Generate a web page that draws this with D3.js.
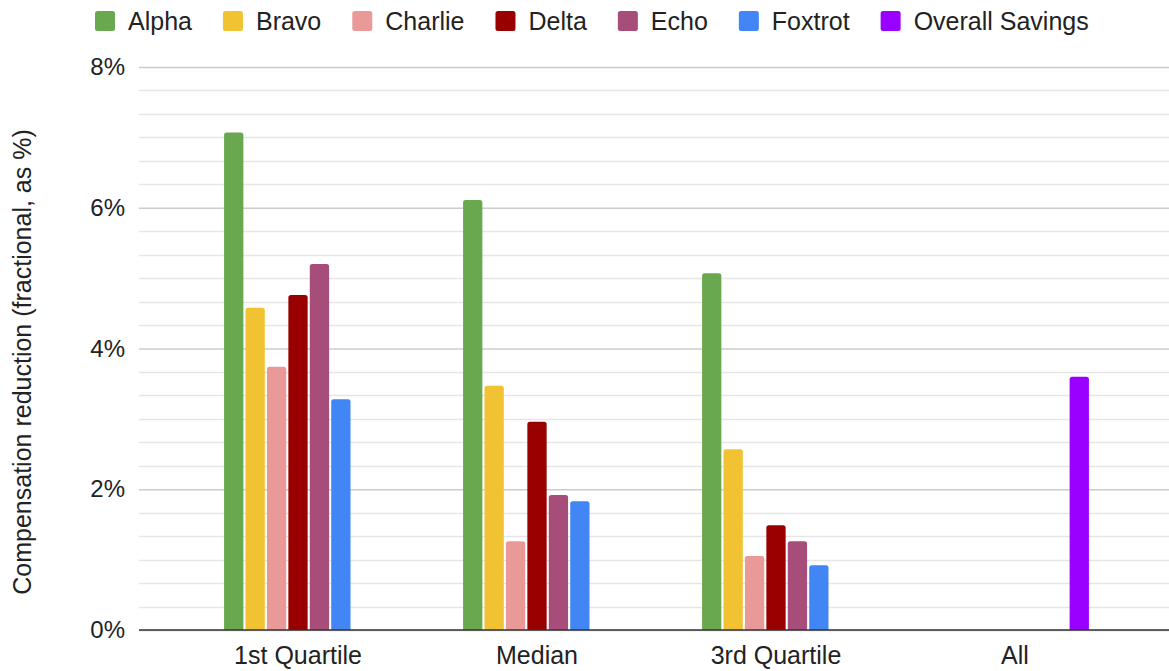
<!DOCTYPE html>
<html>
<head>
<meta charset="utf-8">
<script src="https://cdn.jsdelivr.net/npm/d3@7/dist/d3.min.js"></script>
<style>
  html, body { margin: 0; padding: 0; background: #fff; }
  svg { display: block; font-family: "Liberation Sans", Arial, Helvetica, sans-serif; }
</style>
</head>
<body>
<svg id="chart" width="1169" height="671"></svg>
<script>
// Groups along the x axis
const categories = ["1st Quartile", "Median", "3rd Quartile", "All"];

// Series names and colours
const seriesNames = ["Alpha", "Bravo", "Charlie", "Delta", "Echo", "Foxtrot", "Overall Savings"];
const seriesColors = ["#6aa84f", "#f1c232", "#ea9999", "#990000", "#a64d79", "#4285f4", "#9900ff"];

// Compensation reduction in percent, one value per category (null = no bar)
const alpha   = [7.07, 6.11, 5.07, null];
const bravo   = [4.58, 3.47, 2.57, null];
const charlie = [3.74, 1.26, 1.05, null];
const delta   = [4.76, 2.96, 1.49, null];
const echo    = [5.20, 1.92, 1.26, null];
const foxtrot = [3.28, 1.83, 0.92, null];
const overall = [null, null, null, 3.60];

const yTickValues = [0, 2, 4, 6, 8];
const yTickLabels = ["0%", "2%", "4%", "6%", "8%"];
const yTitle = "Compensation reduction (fractional, as %)";

const seriesValues = [alpha, bravo, charlie, delta, echo, foxtrot, overall];

const svg = d3.select("#chart");
const plotLeft = 139, plotRight = 1174, plotTop = 67, plotBottom = 630;
const fontStack = "'Liberation Sans', Arial, Helvetica, sans-serif";

const x0 = d3.scaleBand()
  .domain(categories)
  .range([plotLeft, plotRight])
  .paddingInner(0.3724)
  .paddingOuter(0.3515);

const x1 = d3.scaleBand()
  .domain(seriesNames)
  .range([0, x0.bandwidth()])
  .paddingInner(0.1)
  .paddingOuter(0.05);

const y = d3.scaleLinear().domain([0, 8]).range([plotBottom, plotTop]);

// Minor gridlines: five between each labelled tick
const minorTicks = d3.range(0, 25).map(i => i / 3).filter(v => !yTickValues.some(t => Math.abs(t - v) < 1e-6));
svg.append("g")
  .selectAll("line")
  .data(minorTicks)
  .join("line")
  .attr("x1", plotLeft).attr("x2", plotRight)
  .attr("y1", d => Math.round(y(d)) + 0.5).attr("y2", d => Math.round(y(d)) + 0.5)
  .attr("stroke", "#e6e6e6").attr("stroke-width", 1.5);

// Major gridlines + labels through a left axis
const yAxis = d3.axisLeft(y)
  .tickValues(yTickValues)
  .tickFormat((d, i) => yTickLabels[i])
  .tickSize(-(plotRight - plotLeft))
  .tickPadding(14);

const gy = svg.append("g")
  .attr("transform", `translate(${plotLeft},0)`)
  .call(yAxis);
gy.select(".domain").remove();
gy.selectAll(".tick line")
  .attr("stroke", "#cccccc").attr("stroke-width", 1.5);
gy.selectAll(".tick text")
  .attr("fill", "#222").attr("font-size", 24)
  .style("font-family", fontStack);

// Bars with slightly rounded tops
function barPath(x, w, yTop, yBase, r) {
  r = Math.min(r, (yBase - yTop) / 2, w / 2);
  return `M${x},${yBase}V${yTop + r}Q${x},${yTop} ${x + r},${yTop}H${x + w - r}Q${x + w},${yTop} ${x + w},${yTop + r}V${yBase}Z`;
}

const barData = [];
seriesNames.forEach((name, si) => {
  seriesValues[si].forEach((v, ci) => {
    if (v !== null) barData.push({ cat: categories[ci], name, value: v, color: seriesColors[si] });
  });
});

svg.append("g")
  .selectAll("path")
  .data(barData)
  .join("path")
  .attr("d", d => barPath(x0(d.cat) + x1(d.name), x1.bandwidth(), y(d.value), y(0), 2.5))
  .attr("fill", d => d.color);

// Baseline
svg.append("line")
  .attr("x1", plotLeft).attr("x2", plotRight)
  .attr("y1", y(0)).attr("y2", y(0))
  .attr("stroke", "#333").attr("stroke-width", 1.6);

// Category labels
const xAxis = d3.axisBottom(x0).tickSize(0).tickPadding(0);
const gx = svg.append("g")
  .attr("transform", `translate(0,${plotBottom})`)
  .call(xAxis);
gx.select(".domain").remove();
gx.selectAll(".tick text")
  .attr("dy", null)
  .attr("y", 34)
  .attr("fill", "#222").attr("font-size", 25)
  .style("font-family", fontStack);

// Y axis title
svg.append("text")
  .attr("transform", `translate(31,362) rotate(-90)`)
  .attr("text-anchor", "middle")
  .attr("fill", "#222")
  .attr("font-size", 25)
  .text(yTitle);

// Legend laid out left to right from measured text widths
const legend = svg.append("g");
let lx = 95;
seriesNames.forEach((name, i) => {
  const g = legend.append("g");
  g.append("rect")
    .attr("x", lx).attr("y", 11)
    .attr("width", 20).attr("height", 20)
    .attr("rx", 2.5)
    .attr("fill", seriesColors[i]);
  const t = g.append("text")
    .attr("x", lx + 33).attr("y", 30)
    .attr("fill", "#222").attr("font-size", 25)
    .text(name);
  lx += 33 + t.node().getComputedTextLength() + 31;
});
</script>
</body>
</html>
